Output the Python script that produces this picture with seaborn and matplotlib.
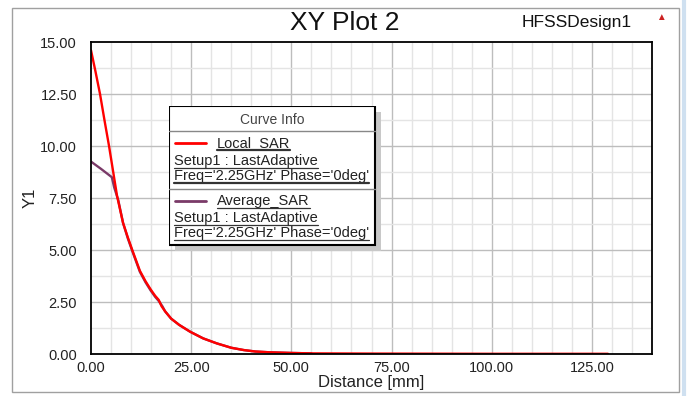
import numpy as np
import matplotlib
matplotlib.use("Agg")
import matplotlib.pyplot as plt
import pandas as pd
import seaborn as sns
from matplotlib.patches import Rectangle
from matplotlib.lines import Line2D

# Curve data
local_dist = [0.0, 1.1, 2.25, 3.4, 4.5, 5.5, 6.5, 8.0, 9.2, 10.3, 12.2, 13.6, 14.9,
              16.0, 16.9, 17.6, 18.5, 20.0, 22.0, 24.75, 28.0, 31.4, 35.0, 38.1, 41.0,
              44.75, 50.0, 55.0, 70.0, 100.0, 129.0]
local_sar = [14.6, 13.6, 12.5, 11.2, 10.0, 8.8, 7.6, 6.3, 5.6, 5.0, 4.0, 3.5, 3.1,
             2.8, 2.6, 2.3, 2.05, 1.7, 1.4, 1.07, 0.75, 0.51, 0.3, 0.19, 0.12,
             0.08, 0.05, 0.03, 0.02, 0.01, 0.01]
avg_dist = [0.0, 2.5, 5.2, 5.8, 6.8, 8.0, 9.2, 10.3, 12.2, 13.6, 14.9, 16.0, 16.9, 17.8,
            18.5, 20.0, 22.0, 24.75, 28.0, 31.4, 35.0, 38.1, 41.0, 44.75, 50.0, 55.0]
avg_sar = [9.25, 8.9, 8.5, 8.0, 7.4, 6.3, 5.55, 4.95, 3.95, 3.45, 3.05, 2.75, 2.55, 2.3,
           2.05, 1.7, 1.4, 1.07, 0.75, 0.51, 0.3, 0.19, 0.12, 0.08, 0.05, 0.03]

curve_names = ["Local_SAR", "Average_SAR"]
curve_colors = ["#ff0000", "#7a3a68"]
setup_label = "Setup1 : LastAdaptive"
freq_label = "Freq='2.25GHz' Phase='0deg'"

df = pd.concat([
    pd.DataFrame({"Distance": avg_dist, "Y1": avg_sar, "curve": curve_names[1]}),
    pd.DataFrame({"Distance": local_dist, "Y1": local_sar, "curve": curve_names[0]}),
])

sns.set_theme(style="white")
plt.rcParams['font.family'] = ['Liberation Sans', 'DejaVu Sans']

fig = plt.figure(figsize=(6.88, 3.96), dpi=100)
ax = fig.add_axes([91/688, 1-354/396, 561/688, 312/396])

sns.lineplot(data=df, x="Distance", y="Y1", hue="curve", hue_order=curve_names[::-1],
             palette=curve_colors[::-1], sort=False, estimator=None, linewidth=1.7,
             legend=False, ax=ax)

ax.set_xlim(0, 140)
ax.set_ylim(0, 15)
ax.set_xticks(np.arange(0, 126, 25))
ax.set_xticks(np.arange(0, 141, 5), minor=True)
ax.set_yticks(np.arange(0, 15.1, 2.5))
ax.set_yticks(np.arange(0, 15.1, 0.5), minor=True)
ax.set_xticklabels(["%.2f" % v for v in np.arange(0, 126, 25)])
ax.set_yticklabels(["%.2f" % v for v in np.arange(0, 15.1, 2.5)])
ax.tick_params(axis="y", which="major", labelsize=10.5, length=9, width=1,
               color="black", pad=1, direction="out", labelcolor="#222222")
ax.tick_params(axis="y", which="minor", length=4, width=1, color="black", direction="out")
ax.tick_params(axis="x", which="major", labelsize=10.5, length=4, width=1,
               color="black", pad=3, direction="inout", labelcolor="#222222")
ax.tick_params(axis="x", which="minor", length=3, width=1, color="black", direction="in")

# grid: light every 5 mm / 1.25, darker on the majors
for xv in np.arange(5, 140, 5):
    ax.axvline(xv, color="#bdbdbd" if xv % 25 == 0 else "#e4e4e4", lw=1, zorder=0)
for yv in np.arange(1.25, 15, 1.25):
    ax.axhline(yv, color="#bdbdbd" if (yv / 1.25) % 2 == 0 else "#e4e4e4", lw=1, zorder=0)

for s in ax.spines.values():
    s.set_color("black")
    s.set_linewidth(1.3)

ax.set_xlabel("Distance [mm]", fontsize=12, labelpad=0, color="#222222")
ax.set_ylabel("Y1", fontsize=12, color="#222222")
ax.yaxis.set_label_coords((38 - 91) / 561, 0.5)

fig.text(345/688, 1-23/396, "XY Plot 2", fontsize=19, ha="center", va="center", color="#111111")
fig.text(577/688, 1-22/396, "HFSSDesign1", fontsize=12.5, ha="center", va="center", color="#111111")
fig.text(661/688, 1-17/396, "\u25b2", fontsize=7, ha="center", va="center", color="#cc2222")

# outer frame of the report window
fig.add_artist(Rectangle((12/688, 1-392/396), 667/688, 384/396, transform=fig.transFigure,
                         fill=False, ec="#a0a0a0", lw=1))
fig.add_artist(Line2D([684/688, 684/688], [0, 1], transform=fig.transFigure,
                      color="#cfe0f0", lw=3))

# Curve Info box, drawn in pixel units of a small overlay axes
lg = fig.add_axes([169/688, 1-252/396, 214/688, 146/396])
lg.set_xlim(0, 214)
lg.set_ylim(146, 0)
lg.axis("off")
lg.add_patch(Rectangle((6, 6), 206, 139, fc="#c8c8c8", ec="none", zorder=1))
lg.add_patch(Rectangle((0, 0), 206, 139, fc="white", ec="black", lw=1.5, zorder=2))
lg.text(103, 14, "Curve Info", fontsize=10, ha="center", va="center", color="#444444", zorder=3)
lg.plot([0, 206], [25, 25], color="#888888", lw=1, zorder=3)
lg.plot([0, 206], [83, 83], color="#888888", lw=1, zorder=3)

texts = []
rows = [(0, 37, 55, 70), (1, 95, 112, 127)]
for i, y_name, y_setup, y_freq in rows:
    lg.plot([6, 37], [y_name, y_name], color=curve_colors[i], lw=2, zorder=3)
    texts.append((lg.text(48, y_name + 4, curve_names[i], fontsize=10.5, va="baseline",
                          color="#222222", zorder=3), i == 0))
    texts.append((lg.text(5, y_setup + 4, setup_label, fontsize=10.5, va="baseline",
                          color="#222222", zorder=3), False))
    texts.append((lg.text(5, y_freq + 4, freq_label, fontsize=10.5, va="baseline",
                          color="#222222", zorder=3), i == 0))

fig.canvas.draw()
r = fig.canvas.get_renderer()
inv = lg.transData.inverted()
for t, thick in texts:
    bb = t.get_window_extent(renderer=r)
    (x0, _), (x1, _) = inv.transform([(bb.x0, 0), (bb.x1, 0)])
    yb = t.get_position()[1] + 2.5
    lg.plot([x0, x1], [yb, yb], color="#333333", lw=1.6 if thick else 0.9, zorder=3)

fig.savefig("out.png", dpi=100, facecolor="white")
